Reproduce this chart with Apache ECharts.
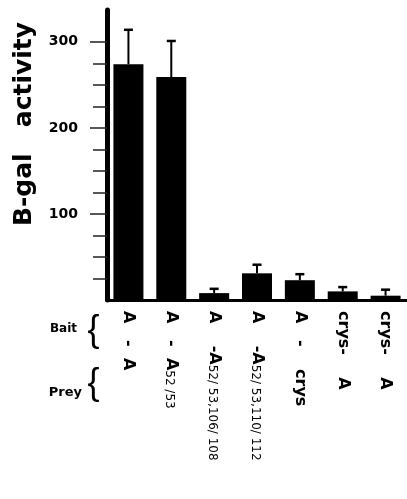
<!DOCTYPE html>
<html>
<head>
<meta charset="utf-8">
<script src="https://cdn.jsdelivr.net/npm/echarts@6.0.0/dist/echarts.min.js"></script>
<style>
  html, body { margin: 0; padding: 0; background: #fff; }
  #chart { width: 407px; height: 499px; }
</style>
</head>
<body>
<div id="chart"></div>
<script>
// bait / prey pairs, read top-to-bottom under each bar
const bait = ["A", "A", "A", "A", "A", "crys", "crys"];
const joins = ["   -  ", "   -  ", "    -", "    -", "   -    ", "-    ", "-    "];
const prey = ["A", "A", "A", "A", "crys", "A", "A"];
const preySub = ["", "52 /53", "52/ 53,106/ 108", "52/ 53,110/ 112", "", "", ""];
const categories = bait.map((b, i) => b + joins[i] + prey[i] + preySub[i]);

// B-gal activity and top of the error bar
const activity = [274, 259, 8, 31, 23, 10, 5];
const errorTop = [314, 301, 13, 41, 30, 15, 12];

const majorTicks = [100, 200, 300];
const minorTicks = [25, 50, 75, 125, 150, 175, 225, 250, 275];

const chart = echarts.init(document.getElementById("chart"));

const option = {
  backgroundColor: "#fff",
  animation: false,
  grid: { left: 107, top: 10, width: 303, height: 290 },
  xAxis: {
    type: "category",
    data: categories,
    axisLine: { lineStyle: { color: "#000", width: 3 } },
    axisTick: { show: false },
    axisLabel: {
      interval: 0,
      rotate: -90,
      margin: 11,
      color: "#000",
      formatter: (v, i) => {
        const s = preySub[i];
        return "{m|" + bait[i] + joins[i] + prey[i] + "}" + (s ? "{s|" + s + "}" : "");
      },
      rich: {
        m: { fontFamily: "DejaVu Sans", fontWeight: "bold", fontSize: 16, color: "#000", verticalAlign: "bottom" },
        s: { fontFamily: "DejaVu Sans", fontSize: 12, color: "#000", verticalAlign: "bottom" }
      }
    },
    splitLine: { show: false }
  },
  yAxis: [
    {
      type: "value",
      min: 0,
      max: 337,
      position: "left",
      axisLine: { show: true, lineStyle: { color: "#000", width: 5 } },
      axisTick: { show: true, customValues: minorTicks, length: 14, lineStyle: { color: "#222", width: 1.5 } },
      axisLabel: { show: false },
      splitLine: { show: false }
    },
    {
      type: "value",
      min: 0,
      max: 337,
      position: "left",
      axisLine: { show: false },
      axisTick: { show: true, customValues: majorTicks, length: 17, lineStyle: { color: "#222", width: 1.5 } },
      axisLabel: {
        customValues: majorTicks,
        margin: 29,
        color: "#000",
        fontFamily: "DejaVu Sans",
        fontWeight: "bold",
        fontSize: 14
      },
      splitLine: { show: false }
    }
  ],
  series: [
    {
      type: "bar",
      data: activity,
      barWidth: 30,
      itemStyle: { color: "#000" }
    },
    {
      type: "custom",
      z: 3,
      data: activity.map((v, i) => [i, v, errorTop[i]]),
      renderItem: (params, api) => {
        const b = api.coord([api.value(0), api.value(1)]);
        const t = api.coord([api.value(0), api.value(2)]);
        return {
          type: "group",
          children: [
            { type: "line", shape: { x1: b[0], y1: b[1], x2: t[0], y2: t[1] }, style: { stroke: "#000", lineWidth: 2 } },
            { type: "line", shape: { x1: t[0] - 4.5, y1: t[1], x2: t[0] + 4.5, y2: t[1] }, style: { stroke: "#000", lineWidth: 2.5 } }
          ]
        };
      }
    }
  ],
  graphic: [
    {
      type: "text", x: 24, y: 124, rotation: Math.PI / 2,
      style: { text: "B-gal   activity", fontFamily: "DejaVu Sans", fontWeight: "bold", fontSize: 25, fill: "#000", align: "center", verticalAlign: "middle" }
    },
    {
      type: "text", x: 77, y: 329,
      style: { text: "Bait", fontFamily: "DejaVu Sans", fontWeight: "bold", fontSize: 12, fill: "#000", align: "right", verticalAlign: "middle" }
    },
    {
      type: "text", x: 82, y: 393,
      style: { text: "Prey", fontFamily: "DejaVu Sans", fontWeight: "bold", fontSize: 13, fill: "#000", align: "right", verticalAlign: "middle" }
    },
    {
      type: "text", x: 93.5, y: 331,
      style: { text: "{", fontFamily: "Liberation Sans", fontSize: 36, fill: "#000", align: "center", verticalAlign: "middle" }
    },
    {
      type: "text", x: 93.5, y: 384,
      style: { text: "{", fontFamily: "Liberation Sans", fontSize: 36, fill: "#000", align: "center", verticalAlign: "middle" }
    }
  ]
};

chart.setOption(option);
</script>
</body>
</html>
